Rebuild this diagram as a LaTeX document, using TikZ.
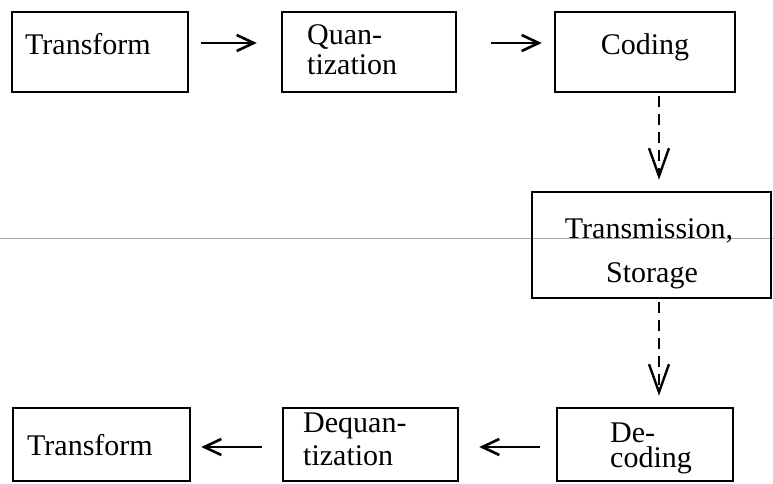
\documentclass[tikz,border=0pt]{standalone}
\usepackage{fontspec}
\setmainfont{Liberation Serif}
\usetikzlibrary{arrows.meta,calc}
\begin{document}
\begin{tikzpicture}[x=1pt,y=-1pt,
  box/.style={draw, line width=2.5pt, inner sep=0pt},
  lbl/.style={inner sep=0pt, anchor=base west, font=\fontsize{30}{32}\selectfont},
  lblc/.style={inner sep=0pt, anchor=base, font=\fontsize{30}{32}\selectfont},
  arr/.style={line width=2.6pt, -{Straight Barb[length=17pt,width=16pt,line width=2.6pt]}},
  darr/.style={line width=2.4pt, dash pattern=on 11pt off 7pt, -{Straight Barb[length=28pt,width=20pt,line width=2.4pt]}}]
\useasboundingbox (0,0) rectangle (773,484);
% guide line
\coordinate (gl) at (0,238);
\coordinate (gr) at (773,238);
\draw[gray!70, line width=0.6pt] (gl) -- (gr);
% boxes
\node[box, minimum width=176pt, minimum height=80pt] (t1) at (100,52) {};
\node[box, minimum width=174pt, minimum height=80pt] (q) at (369,52) {};
\node[box, minimum width=180pt, minimum height=80pt] (c) at (645,52) {};
\node[box, minimum width=239pt, minimum height=106pt] (tr) at (651.5,245) {};
\node[box, minimum width=177pt, minimum height=73pt] (t2) at (101.5,444.5) {};
\node[box, minimum width=175pt, minimum height=73pt] (dq) at (370.5,444.5) {};
\node[box, minimum width=176pt, minimum height=73pt] (dc) at (645,444.5) {};
% labels
\node[lbl] (t1l) at (25,55) {Transform};
\node[lbl] (ql1) at (307,45) {Quan-};
\node[lbl] (ql2) at (307,75) {tization};
\node[lblc] (cl) at (645,55) {Coding};
\node[lblc] (trl1) at (649,238) {Transmission,};
\node[lblc] (trl2) at (652,282) {Storage};
\node[lbl] (t2l) at (27,455) {Transform};
\node[lbl] (dql1) at (303,432) {Dequan-};
\node[lbl] (dql2) at (303,465) {tization};
\node[lbl] (dcl1) at (610,442) {De-};
\node[lbl] (dcl2) at (610,467) {coding};
% dashed connector end points
\coordinate (d1s) at ($(c.south)+(14,0)$);
\coordinate (d1e) at (d1s |- tr.north);
\coordinate (d2s) at ($(tr.south)+(7.5,0)$);
\coordinate (d2e) at (d2s |- dc.north);
% arrows
\draw[arr, shorten <=12pt, shorten >=24pt] ($(t1.east)+(0,-9)$) -- ($(q.west)+(0,-9)$);
\draw[arr, shorten <=34pt, shorten >=12pt] ($(q.east)+(0,-9)$) -- ($(c.west)+(0,-9)$);
\draw[darr, shorten <=3pt, shorten >=11pt] (d1s) -- (d1e);
\draw[darr, shorten <=3pt, shorten >=11pt] (d2s) -- (d2e);
\draw[arr, shorten <=16pt, shorten >=20pt] ($(dc.west)+(0,2.5)$) -- ($(dq.east)+(0,2.5)$);
\draw[arr, shorten <=20pt, shorten >=10pt] ($(dq.west)+(0,2.5)$) -- ($(t2.east)+(0,2.5)$);
\end{tikzpicture}
\end{document}
